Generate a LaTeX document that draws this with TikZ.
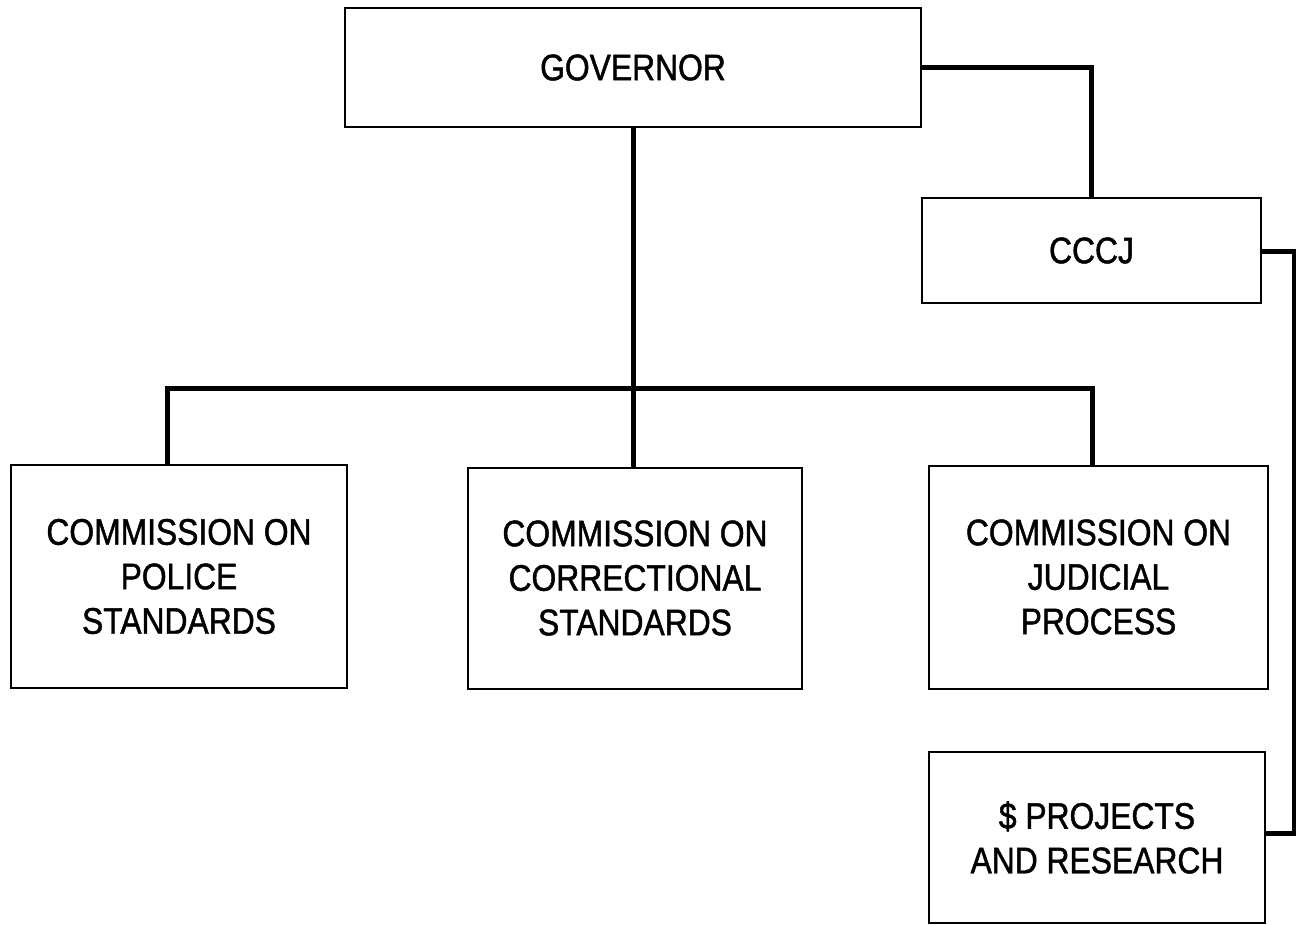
\documentclass[tikz,border=0pt]{standalone}
\usepackage{fontspec}
\setmainfont{Liberation Sans}[FakeStretch=0.86,FakeBold=1.2]
\begin{document}
\begin{tikzpicture}[x=1pt,y=-1pt,
  box/.style={draw,line width=2pt,inner sep=0pt,align=center,
    font=\fontsize{37}{44.5}\selectfont},
  link/.style={line width=5pt,line cap=butt,line join=miter}]
\useasboundingbox (0,0) rectangle (1296,925);
\node[box,minimum width=576pt,minimum height=119pt] (gov) at (633,67.5) {GOVERNOR};
\node[box,minimum width=339pt,minimum height=105pt] (cccj) at (1091.5,250.5) {CCCJ};
\node[box,minimum width=336pt,minimum height=223pt] (b1) at (179,576.5) {COMMISSION ON\\POLICE\\STANDARDS};
\node[box,minimum width=334pt,minimum height=221pt] (b2) at (635,578) {COMMISSION ON\\CORRECTIONAL\\STANDARDS};
\node[box,minimum width=339pt,minimum height=223pt] (b3) at (1098.5,577) {COMMISSION ON\\JUDICIAL\\PROCESS};
\node[box,minimum width=336pt,minimum height=171pt] (b4) at (1097,837.5) {\$ PROJECTS\\AND RESEARCH};
\coordinate (bl) at (167,388);
\coordinate (br) at (1092,388);
\coordinate (r1) at (1294,252);
\coordinate (r2) at (1294,833);
\coordinate (gx) at (633,0);
\draw[link] (gov.east) -| (cccj.north);
\draw[link] (gov.south -| gx) -- (b2.north -| gx);
\draw[link] (b1.north -| bl) -- (bl) -- (br) -- (b3.north -| br);
\draw[link] (cccj.east |- r1) -- (r1) -- (r2) -- (b4.east |- r2);
\end{tikzpicture}
\end{document}
